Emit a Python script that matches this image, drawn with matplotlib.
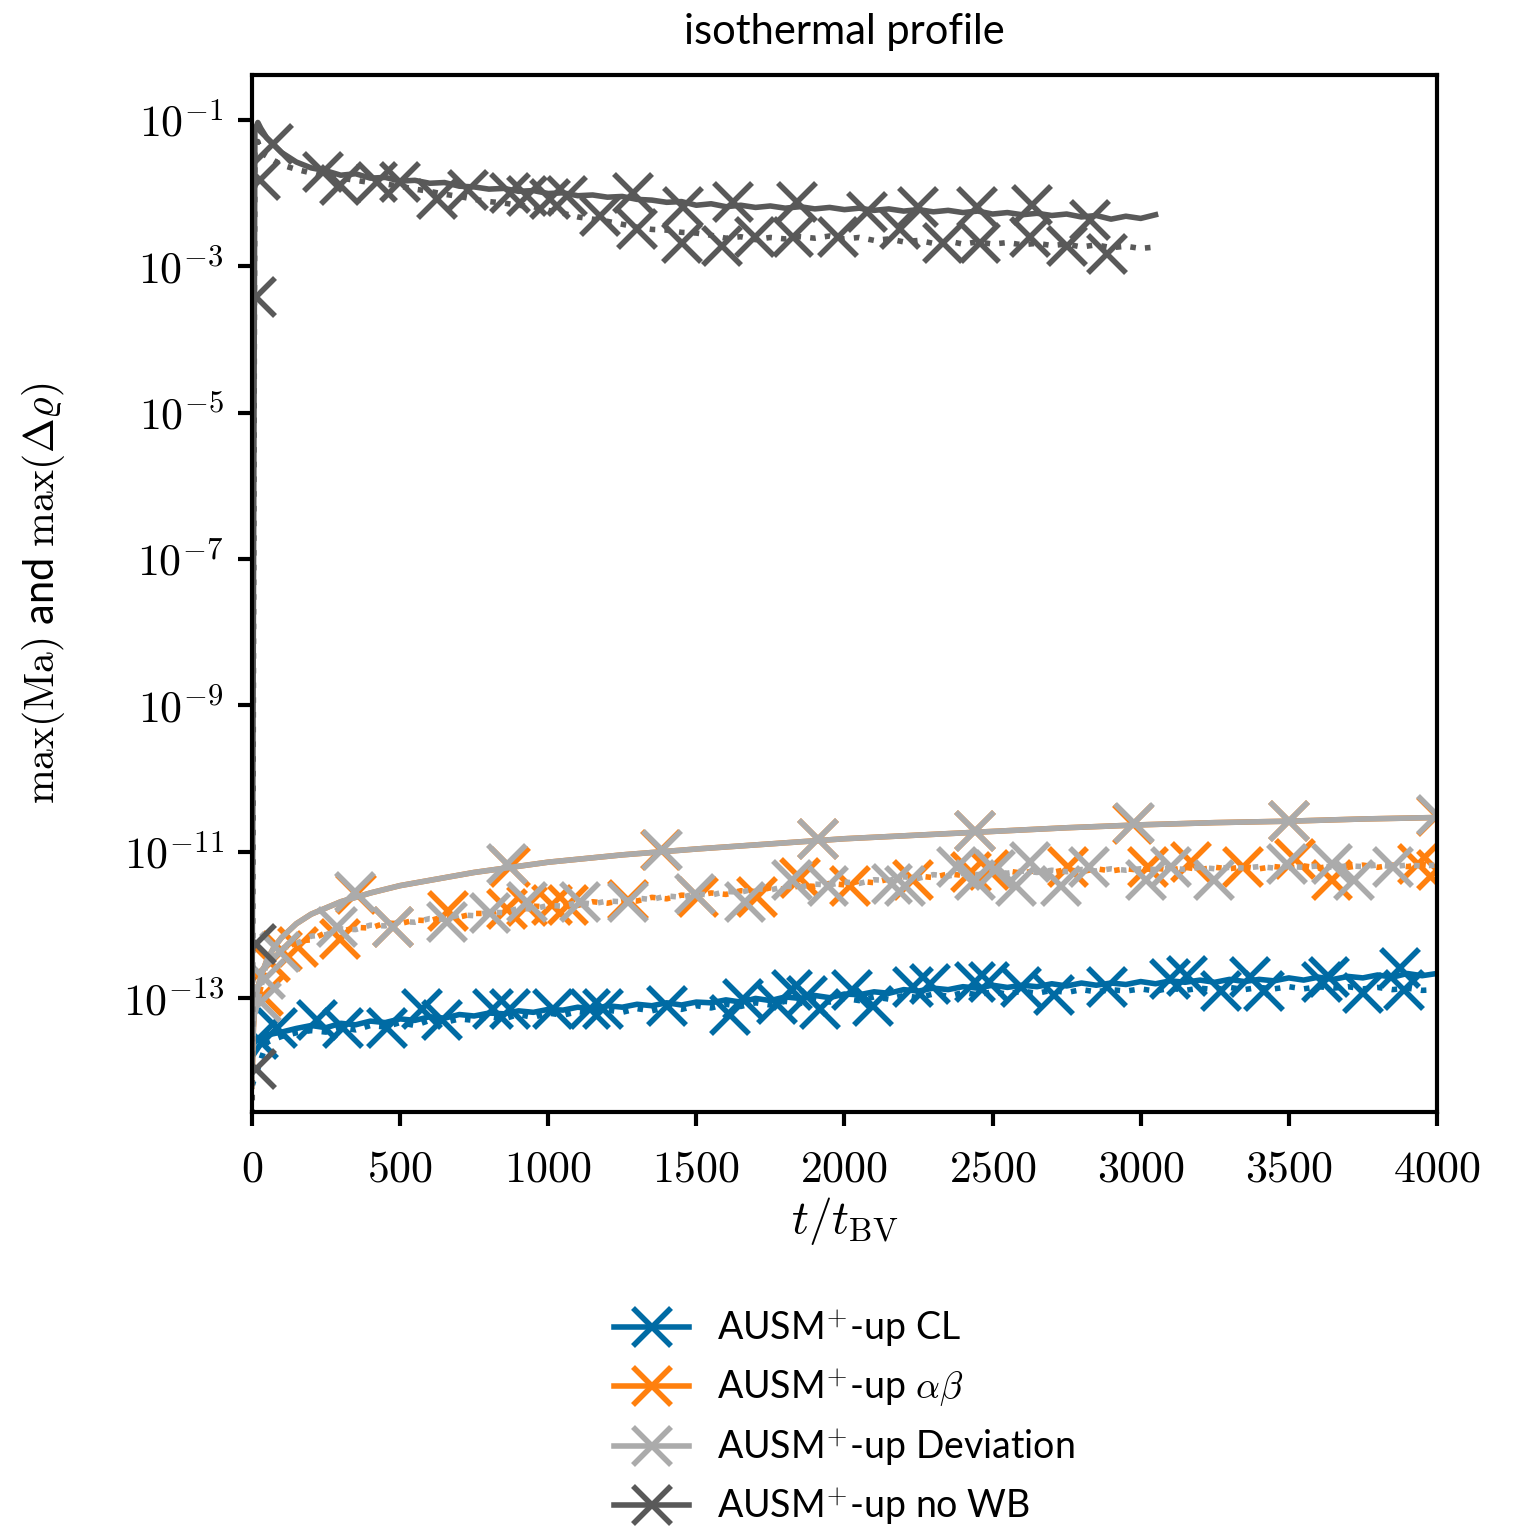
"""
Isothermal profile: max(Ma) and max(drho) over time for AUSM+-up variants.
Values are stored as log10 exponents read off the reference figure.
"""

import numpy as np
import matplotlib

matplotlib.use("Agg")
import matplotlib.pyplot as plt
from matplotlib.lines import Line2D
from matplotlib.ticker import FixedLocator, FuncFormatter, NullLocator

COLORS = {"cl": "#006BA4", "ab": "#FF800E", "dev": "#ABABAB", "nowb": "#595959"}
LABELS = [
    r"AUSM$^{+}$-up CL",
    r"AUSM$^{+}$-up $\alpha\beta$",
    r"AUSM$^{+}$-up Deviation",
    r"AUSM$^{+}$-up no WB",
]
YTICKS = [1e-13, 1e-11, 1e-9, 1e-7, 1e-5, 1e-3, 1e-1]
XTICKS = [0, 500, 1000, 1500, 2000, 2500, 3000, 3500, 4000]

# --- CL: noisy lines, equally spaced over 0..4000 ---
cl_ma_log = [-13.80, -13.50, -13.46, -13.41, -13.37, -13.40, -13.34, -13.36, -13.31, -13.33,
             -13.28, -13.30, -13.25, -13.27, -13.22, -13.24, -13.20, -13.21, -13.17, -13.19,
             -13.15, -13.16, -13.12, -13.15, -13.10, -13.12, -13.08, -13.10, -13.06, -13.09,
             -13.05, -13.06, -13.02, -13.05, -13.00, -13.03, -12.98, -13.00, -12.96, -12.99,
             -12.94, -12.95, -12.91, -12.93, -12.88, -12.90, -12.86, -12.88, -12.84, -12.86,
             -12.82, -12.85, -12.82, -12.84, -12.80, -12.83, -12.79, -12.82, -12.79, -12.81,
             -12.77, -12.80, -12.76, -12.78, -12.75, -12.78, -12.74, -12.77, -12.74, -12.76,
             -12.72, -12.75, -12.71, -12.74, -12.70, -12.72, -12.68, -12.71, -12.66, -12.69,
             -12.66]
cl_rho_log = [-14.20, -13.60, -13.52, -13.47, -13.44, -13.46, -13.40, -13.43, -13.37, -13.39,
              -13.33, -13.37, -13.30, -13.33, -13.28, -13.30, -13.25, -13.28, -13.22, -13.26,
              -13.20, -13.23, -13.18, -13.21, -13.16, -13.19, -13.14, -13.17, -13.12, -13.15,
              -13.10, -13.13, -13.08, -13.11, -13.06, -13.09, -13.04, -13.07, -13.02, -13.05,
              -13.00, -13.03, -12.98, -13.01, -12.96, -12.99, -12.94, -12.97, -12.92, -12.95,
              -12.91, -12.94, -12.90, -12.93, -12.89, -12.92, -12.88, -12.91, -12.88, -12.90,
              -12.87, -12.90, -12.86, -12.89, -12.86, -12.88, -12.85, -12.88, -12.85, -12.87,
              -12.84, -12.87, -12.84, -12.86, -12.84, -12.87, -12.85, -12.88, -12.86, -12.89,
              -12.88]

# --- alpha-beta and Deviation: smooth solid curve (shared x) + noisy dotted lines ---
smooth_t = [0, 5, 10, 20, 30, 50, 75, 100, 150, 200, 300, 400, 500, 750, 1000, 1250,
            1500, 1750, 2000, 2250, 2500, 2750, 3000, 3250, 3500, 3750, 4000]
ab_ma_log = [-14.2, -13.4, -13.1, -12.85, -12.7, -12.48, -12.3, -12.17, -11.98, -11.85,
             -11.68, -11.56, -11.46, -11.28, -11.14, -11.04, -10.96, -10.89, -10.82, -10.77,
             -10.72, -10.67, -10.63, -10.60, -10.58, -10.55, -10.53]
dev_ma_log = [-14.2, -13.4, -13.1, -12.85, -12.7, -12.48, -12.3, -12.17, -11.98, -11.85,
              -11.68, -11.56, -11.46, -11.28, -11.14, -11.04, -10.96, -10.89, -10.82, -10.77,
              -10.72, -10.67, -10.63, -10.60, -10.58, -10.55, -10.53]
ab_rho_log = [-13.30, -12.55, -12.38, -12.22, -12.20, -12.10, -12.09, -12.03, -12.04, -11.97,
              -11.98, -11.93, -11.94, -11.88, -11.89, -11.84, -11.84, -11.79, -11.80, -11.74,
              -11.75, -11.71, -11.73, -11.68, -11.70, -11.66, -11.67, -11.62, -11.64, -11.59,
              -11.60, -11.56, -11.58, -11.53, -11.54, -11.49, -11.51, -11.46, -11.47, -11.43,
              -11.45, -11.40, -11.42, -11.37, -11.38, -11.33, -11.35, -11.30, -11.32, -11.28,
              -11.30, -11.26, -11.29, -11.25, -11.28, -11.24, -11.27, -11.23, -11.26, -11.23,
              -11.25, -11.22, -11.25, -11.21, -11.24, -11.21, -11.23, -11.20, -11.23, -11.20,
              -11.22, -11.19, -11.22, -11.19, -11.21, -11.18, -11.21, -11.18, -11.20, -11.17,
              -11.19]
dev_rho_log = [-13.40, -12.50, -12.32, -12.25, -12.15, -12.13, -12.05, -12.06, -12.00, -12.01,
               -11.95, -11.96, -11.91, -11.92, -11.86, -11.87, -11.82, -11.83, -11.77, -11.78,
               -11.73, -11.74, -11.69, -11.71, -11.67, -11.68, -11.63, -11.65, -11.60, -11.62,
               -11.57, -11.59, -11.54, -11.55, -11.50, -11.52, -11.47, -11.48, -11.44, -11.45,
               -11.41, -11.43, -11.38, -11.39, -11.34, -11.36, -11.31, -11.33, -11.29, -11.31,
               -11.27, -11.29, -11.26, -11.28, -11.25, -11.27, -11.24, -11.26, -11.23, -11.25,
               -11.23, -11.24, -11.22, -11.24, -11.21, -11.23, -11.21, -11.22, -11.20, -11.22,
               -11.20, -11.21, -11.19, -11.21, -11.19, -11.20, -11.18, -11.20, -11.18, -11.19,
               -11.18]

# --- no WB: runs only to t = 3050 ---
nowb_t = [0, 10, 20, 30] + list(range(50, 3051, 50))
nowb_ma_log = [-14.0, -1.15, -1.04, -1.12, -1.25, -1.45, -1.58, -1.66, -1.70, -1.76,
               -1.74, -1.80, -1.79, -1.84, -1.83, -1.87, -1.86, -1.91, -1.92, -1.95,
               -1.94, -1.98, -1.97, -2.01, -2.00, -2.04, -2.03, -2.06, -2.05, -2.09,
               -2.10, -2.13, -2.12, -2.17, -2.15, -2.19, -2.17, -2.20, -2.18, -2.21,
               -2.19, -2.22, -2.20, -2.23, -2.21, -2.24, -2.22, -2.25, -2.23, -2.26,
               -2.24, -2.27, -2.25, -2.29, -2.27, -2.30, -2.28, -2.31, -2.29, -2.33,
               -2.31, -2.36, -2.32, -2.35, -2.30]
nowb_rho_log = [-16.0, -1.40, -1.30, -1.45, -1.50, -1.62, -1.68, -1.73, -1.78, -1.80,
                -1.83, -1.86, -1.88, -1.91, -1.95, -1.98, -2.02, -2.05, -2.09, -2.12,
                -2.14, -2.17, -2.19, -2.24, -2.28, -2.33, -2.36, -2.39, -2.43, -2.47,
                -2.50, -2.51, -2.54, -2.55, -2.58, -2.62, -2.60, -2.64, -2.61, -2.63,
                -2.60, -2.62, -2.59, -2.63, -2.61, -2.65, -2.63, -2.67, -2.65, -2.69,
                -2.66, -2.70, -2.67, -2.70, -2.68, -2.71, -2.69, -2.72, -2.70, -2.74,
                -2.71, -2.75, -2.73, -2.76, -2.74]

# --- marker positions (t, log10 value) ---
cl_mk_t = [20, 83, 219, 307, 455, 573, 641, 813, 871, 1016, 1141, 1185, 1401, 1613, 1658,
           1771, 1823, 1873, 1917, 2025, 2096, 2231, 2289, 2440, 2488, 2596, 2707, 2886,
           3099, 3156, 3271, 3369, 3416, 3612, 3635, 3750, 3875, 3889]
cl_mk_log = [-13.55, -13.40, -13.29, -13.40, -13.40, -13.15, -13.29, -13.15, -13.15, -13.15,
             -13.15, -13.15, -13.11, -13.22, -13.01, -13.08, -12.88, -12.97, -13.15, -12.88,
             -13.11, -12.84, -12.81, -12.78, -12.78, -12.84, -12.95, -12.84, -12.74, -12.70,
             -12.90, -12.71, -12.90, -12.78, -12.71, -12.92, -12.58, -12.88]

ab_mk_t = [37, 60, 100, 156, 297, 476, 662, 861, 928, 1013, 1067, 1269, 1506, 1705, 1850,
           2018, 2231, 2428, 2488, 2755, 3025, 3170, 3345, 3520, 3645, 3936, 4000,
           350, 870, 1380, 1910, 2440, 2975, 3500, 4000]
ab_mk_log = [-12.97, -12.50, -12.35, -12.30, -12.19, -12.03, -11.81, -11.78, -11.74, -11.72,
             -11.72, -11.65, -11.62, -11.61, -11.35, -11.47, -11.38, -11.28, -11.24, -11.20,
             -11.21, -11.14, -11.20, -11.10, -11.38, -11.17, -11.24,
             -11.58, -11.20, -10.97, -10.83, -10.72, -10.62, -10.58, -10.51]

dev_mk_t = [30, 44, 94, 287, 476, 658, 803, 928, 1107, 1269, 1495, 1664, 1823, 1944, 2160,
            2204, 2380, 2440, 2508, 2579, 2626, 2731, 2825, 3018, 3102, 3247, 3494, 3645,
            3720, 3851,
            348, 861, 1384, 1911, 2440, 2977, 3500, 4000]
dev_mk_log = [-13.05, -12.74, -12.37, -12.02, -12.03, -11.95, -11.83, -11.69, -11.68, -11.69,
              -11.58, -11.69, -11.38, -11.47, -11.44, -11.47, -11.21, -11.38, -11.24, -11.47,
              -11.14, -11.47, -11.21, -11.38, -11.21, -11.38, -11.17, -11.17, -11.38, -11.20,
              -11.55, -11.17, -10.97, -10.83, -10.72, -10.60, -10.58, -10.50]

nowb_mk_t = [15, 15, 15, 27, 71, 240, 297, 422, 500, 624, 729, 871, 928, 1006, 1063, 1175,
             1286, 1300, 1455, 1452, 1586, 1624, 1698, 1840, 1826, 1978, 2076, 2187, 2248,
             2333, 2447, 2457, 2633, 2626, 2750, 2829, 2886]
nowb_mk_log = [-13.97, -12.26, -3.42, -1.82, -1.34, -1.72, -1.89, -1.85, -1.85, -2.09,
               -1.96, -2.00, -2.05, -2.09, -2.05, -2.32, -2.00, -2.50, -2.19, -2.68,
               -2.73, -2.13, -2.60, -2.13, -2.60, -2.60, -2.26, -2.50, -2.19, -2.68,
               -2.19, -2.68, -2.16, -2.60, -2.73, -2.37, -2.84]

LW = 2.0
MS = 14
MEW = 2.0


def draw_series(ax, color, t_ma, ma_log, t_rho, rho_log, mk_t, mk_log):
    ax.plot(t_ma, 10.0 ** np.asarray(ma_log), color=color, lw=LW, ls="-")
    ax.plot(t_rho, 10.0 ** np.asarray(rho_log), color=color, lw=LW, ls=":")
    ax.plot(mk_t, 10.0 ** np.asarray(mk_log), color=color, ls="none", marker="x",
            ms=MS, mew=MEW)


def main():
    plt.rcParams["font.family"] = ["Lato", "DejaVu Sans"]
    plt.rcParams["mathtext.fontset"] = "cm"
    plt.rcParams["font.size"] = 14

    fig = plt.figure(figsize=(7.57, 7.64), dpi=200)
    ax = fig.add_axes([0.1664, 0.2723, 0.7827, 0.6787])

    full_t = np.linspace(0, 4000, len(cl_ma_log))
    rho_t = np.linspace(0, 4000, len(ab_rho_log))

    draw_series(ax, COLORS["cl"], full_t, cl_ma_log, full_t, cl_rho_log, cl_mk_t, cl_mk_log)
    draw_series(ax, COLORS["ab"], smooth_t, ab_ma_log, rho_t, ab_rho_log, ab_mk_t, ab_mk_log)
    draw_series(ax, COLORS["dev"], smooth_t, dev_ma_log, rho_t, dev_rho_log, dev_mk_t, dev_mk_log)
    draw_series(ax, COLORS["nowb"], nowb_t, nowb_ma_log, nowb_t, nowb_rho_log,
                nowb_mk_t, nowb_mk_log)

    ax.set_yscale("log")
    ax.set_xlim(0, 4000)
    ax.set_ylim(10 ** -14.55, 10 ** -0.39)
    ax.yaxis.set_major_locator(FixedLocator(YTICKS))
    ax.yaxis.set_minor_locator(NullLocator())
    ax.yaxis.set_major_formatter(FuncFormatter(lambda v, p: r"$10^{%d}$" % round(np.log10(v))))
    ax.xaxis.set_major_locator(FixedLocator(XTICKS))
    ax.xaxis.set_major_formatter(FuncFormatter(lambda v, p: r"$%d$" % v))

    for sp in ax.spines.values():
        sp.set_linewidth(1.5)
    ax.tick_params(width=1.5, length=5, labelsize=15.8)
    ax.tick_params(axis="x", pad=8)
    ax.tick_params(axis="y", pad=5)

    ax.set_xlabel(r"$t/t_\mathrm{BV}$", fontsize=17, labelpad=2)
    ax.set_ylabel(r"$\max(\mathrm{Ma})$ and $\max(\Delta\varrho)$", fontsize=15)
    ax.yaxis.set_label_coords(-0.156, 0.5)
    ax.set_title("isothermal profile", fontsize=15, pad=11)

    handles = [Line2D([], [], color=COLORS[k], lw=LW, marker="x", ms=MS, mew=MEW)
               for k in ("cl", "ab", "dev", "nowb")]
    fig.legend(handles, LABELS, loc="upper center", bbox_to_anchor=(844.5 / 1514, 1 - 1274 / 1528),
               frameon=False, fontsize=13.5, handlelength=2.0, handletextpad=0.75,
               labelspacing=0.47)

    fig.savefig("out.png", dpi=200)


if __name__ == "__main__":
    main()
